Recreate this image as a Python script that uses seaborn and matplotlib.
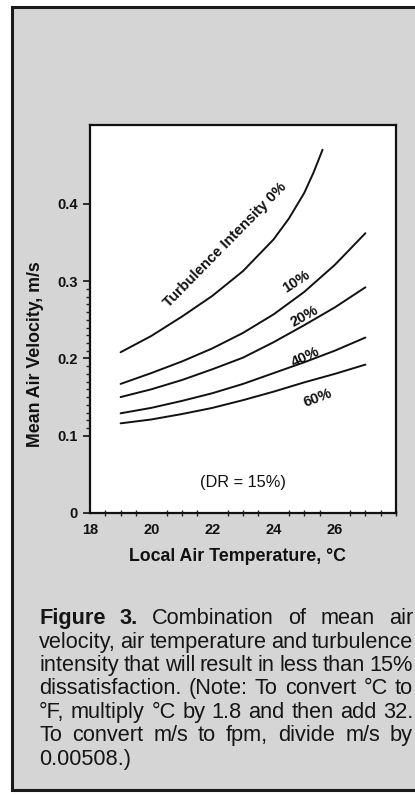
import numpy as np
import pandas as pd
import seaborn as sns
import matplotlib.pyplot as plt
from matplotlib.patches import Rectangle

# values
temp_0 = [19, 20, 21, 22, 23, 24, 24.5, 25, 25.3, 25.6]
vel_0 = [0.208, 0.229, 0.254, 0.281, 0.313, 0.354, 0.381, 0.414, 0.440, 0.470]
temp_all = [19, 20, 21, 22, 23, 24, 25, 26, 27]
vel_10 = [0.167, 0.181, 0.196, 0.213, 0.233, 0.257, 0.286, 0.321, 0.362]
vel_20 = [0.150, 0.160, 0.172, 0.186, 0.201, 0.221, 0.243, 0.266, 0.292]
vel_40 = [0.129, 0.136, 0.145, 0.155, 0.167, 0.181, 0.195, 0.210, 0.227]
vel_60 = [0.116, 0.121, 0.128, 0.136, 0.146, 0.157, 0.169, 0.180, 0.192]

x_ticks = [18, 20, 22, 24, 26]
y_ticks = [0, 0.1, 0.2, 0.3, 0.4]
y_tick_labels = ['0', '0.1', '0.2', '0.3', '0.4']

curve_labels = ['Turbulence Intensity 0%', '10%', '20%', '40%', '60%']
label_x = [22.41, 24.73, 25.0, 25.03, 25.45]
label_y = [0.347, 0.299, 0.254, 0.202, 0.149]
label_rot = [45.5, 33, 29, 25, 21]

caption = [
    'Figure 3.  Combination of mean air',
    'velocity, air temperature and turbulence',
    'intensity that will result in less than 15%',
    'dissatisfaction. (Note: To convert \u00b0C to',
    '\u00b0F, multiply \u00b0C by 1.8 and then add 32.',
    'To convert m/s to fpm, divide m/s by',
    '0.00508.)',
]

rows = []
for t, v in zip(temp_0, vel_0):
    rows.append(('0%', t, v))
for name, vals in [('10%', vel_10), ('20%', vel_20), ('40%', vel_40), ('60%', vel_60)]:
    for t, v in zip(temp_all, vals):
        rows.append((name, t, v))
df = pd.DataFrame(rows, columns=['ti', 'temp', 'vel'])

sns.set_theme(style='white')
plt.rcParams['font.family'] = ['Liberation Sans', 'DejaVu Sans']

W, H = 415, 795
fig = plt.figure(figsize=(W / 100, H / 100), dpi=100)
fig.patch.set_facecolor('white')

# grey scanned page with black frame
fig.add_artist(Rectangle((12 / W, 5 / H), 1.2, (790 - 7) / H, transform=fig.transFigure,
                         facecolor='#d5d5d5', edgecolor='#1a1a1a', lw=2.2, zorder=0))

ax = fig.add_axes([90 / W, 1 - 513 / H, 306 / W, 388 / H])
ax.set_facecolor('white')

sns.lineplot(data=df, x='temp', y='vel', hue='ti', palette=['#111111'] * 5,
             estimator=None, legend=False, lw=1.4, ax=ax)

ax.set_xlim(18, 28)
ax.set_ylim(0, 0.502)
ax.set_xticks(x_ticks)
ax.set_xticklabels([str(t) for t in x_ticks])
ax.set_xticks(np.arange(18, 28.01, 0.5), minor=True)
ax.set_yticks(y_ticks)
ax.set_yticklabels(y_tick_labels)
ax.set_yticks(np.arange(0.11, 0.295, 0.01), minor=True)

for s in ax.spines.values():
    s.set_color('#111111')
    s.set_linewidth(1.6)

ax.tick_params(axis='both', which='major', labelsize=10.5, colors='#111111', width=1.2)
ax.tick_params(axis='x', which='major', direction='inout', length=6, pad=4)
ax.tick_params(axis='x', which='minor', direction='inout', length=4, width=1, bottom=True)
ax.tick_params(axis='y', which='major', direction='out', length=5, pad=4, left=True)
ax.tick_params(axis='y', which='minor', direction='out', length=3, width=1, left=True)
for lab in ax.get_xticklabels() + ax.get_yticklabels():
    lab.set_fontweight('bold')

ax.set_xlabel('Local Air Temperature, \u00b0C', fontsize=12.8, fontweight='bold', color='#111111')
ax.set_ylabel('Mean Air Velocity, m/s', fontsize=12.8, fontweight='bold', color='#111111')
ax.xaxis.set_label_coords((237 - 90) / 306, -(548 - 513) / 388)
ax.yaxis.set_label_coords(-(90 - 44) / 306, (513 - 354) / 388)

for txt, x, y, r in zip(curve_labels, label_x, label_y, label_rot):
    ax.text(x, y, txt, rotation=r, rotation_mode='anchor', ha='center', va='center',
            fontsize=10.7, fontweight='bold', color='#111111')
ax.text(23.0, 0.040, '(DR = 15%)', ha='center', va='center', fontsize=11.8, color='#111111')

# justified caption, font size chosen so the tightest line still fits
renderer = fig.canvas.get_renderer()
left, right = 39, 413
baselines = [624, 648, 671, 694, 718, 741, 765]

line_texts = []
for i, (line, base) in enumerate(zip(caption, baselines)):
    texts = []
    for j, w in enumerate(line.split()):
        bold = (i == 0 and j < 2)
        t = fig.text(0, 1 - base / H, w, fontsize=10, color='#151515',
                     fontweight='bold' if bold else 'normal', va='baseline', ha='left')
        texts.append(t)
    line_texts.append(texts)

size = 16.5
for texts in line_texts[:-1]:
    w10 = sum(t.get_window_extent(renderer).width for t in texts)
    size = min(size, (right - left - 4 * (len(texts) - 1)) * 10 / w10)

for i, texts in enumerate(line_texts):
    for t in texts:
        t.set_fontsize(size)
    widths = [t.get_window_extent(renderer).width for t in texts]
    if i == len(line_texts) - 1 or len(texts) == 1:
        gap = 5
    else:
        gap = (right - left - sum(widths)) / (len(texts) - 1)
    x = left
    for t, w in zip(texts, widths):
        t.set_x(x / W)
        x += w + gap

plt.savefig('out.png', dpi=100)
